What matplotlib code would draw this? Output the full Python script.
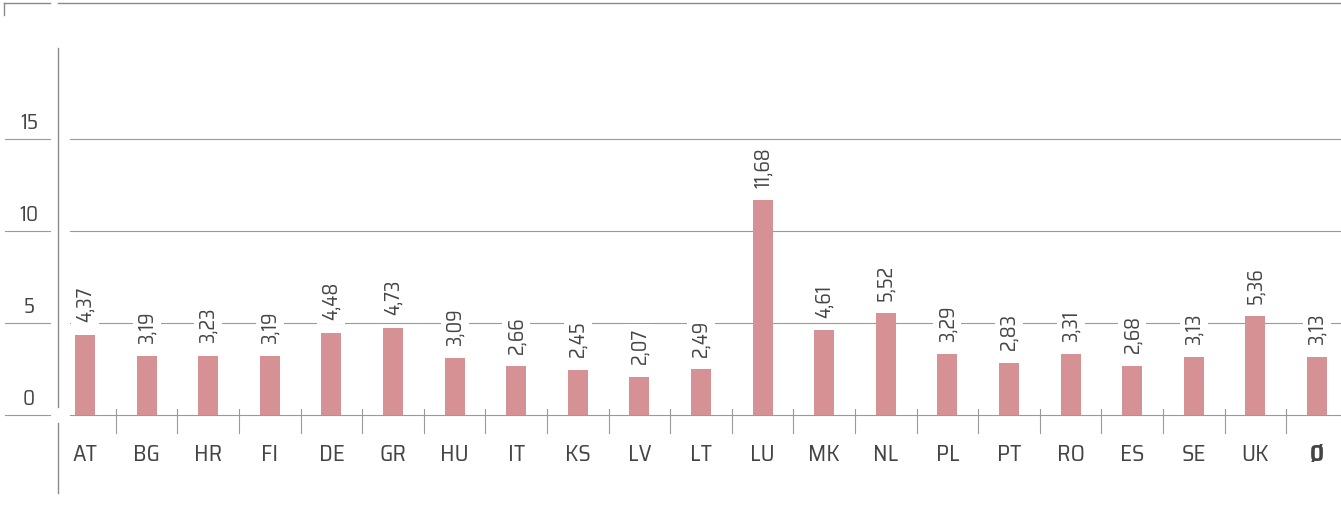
import matplotlib
matplotlib.use("Agg")
import matplotlib.pyplot as plt

countries = ["AT", "BG", "HR", "FI", "DE", "GR", "HU", "IT", "KS", "LV", "LT",
             "LU", "MK", "NL", "PL", "PT", "RO", "ES", "SE", "UK", "Ø"]
values = [4.37, 3.19, 3.23, 3.19, 4.48, 4.73, 3.09, 2.66, 2.45, 2.07, 2.49,
          11.68, 4.61, 5.52, 3.29, 2.83, 3.31, 2.68, 3.13, 5.36, 3.13]
yticks = [0, 5, 10, 15]

W, H = 1341, 505
X0, DX = 85, 61.6      # pixel centre of first bar, spacing
Y0, DY = 415, 18.4     # pixel row of zero, pixels per unit

def px(x):
    return (x - X0) / DX

def py(y):
    return (Y0 - y) / DY

plt.rcParams['font.family'] = ['Saira SemiCondensed', 'DejaVu Sans']

fig = plt.figure(figsize=(W / 100, H / 100), dpi=100)
ax = fig.add_axes([0, 0, 1, 1])
ax.set_xlim(px(0), px(W))
ax.set_ylim(py(H), py(0))
ax.axis("off")

grid_c = "#9a9a9a"
frame_c = "#8a8a8a"
text_c = "#444444"

# gridlines with a gap around the vertical axis
for t in yticks:
    ax.plot([px(5), px(50)], [t, t], color=grid_c, lw=0.8, zorder=1)
    ax.plot([px(70), px(W)], [t, t], color=grid_c, lw=0.8, zorder=1)
    ax.annotate(str(t), (px(29), t), xytext=(0, 4), textcoords="offset points",
                ha="center", va="bottom", fontsize=15, color=text_c)

# vertical axis line, broken at zero
ax.plot([px(58), px(58)], [py(48), py(407)], color=frame_c, lw=1.0)
ax.plot([px(58), px(58)], [py(423), py(493)], color=frame_c, lw=1.0)

# top frame
ax.plot([px(4), px(50)], [py(3), py(3)], color=frame_c, lw=1.0)
ax.plot([px(58), px(W)], [py(3), py(3)], color=frame_c, lw=1.0)
ax.plot([px(4), px(4)], [py(3), py(15)], color=frame_c, lw=1.0)

idx = list(range(len(countries)))
ax.bar(idx, values, width=20 / DX, color="#d69194", zorder=2)

# separators between categories
for i in idx[:-1]:
    ax.plot([i + 0.5, i + 0.5], [py(409), py(433)], color=grid_c, lw=0.8)

for i, (c, v) in enumerate(zip(countries, values)):
    ax.annotate(f"{v:.2f}".replace(".", ","), (i, v), xytext=(0, 9),
                textcoords="offset points", rotation=90, ha="center", va="bottom",
                fontsize=14.5, color=text_c, zorder=3,
                bbox=dict(boxstyle="square,pad=0.2", fc="white", ec="none"))
    ax.text(i, py(455), c, ha="center", va="center", fontsize=16.5,
            color=text_c, fontweight="bold" if c == "Ø" else "normal")

fig.savefig("out.png", dpi=100)
